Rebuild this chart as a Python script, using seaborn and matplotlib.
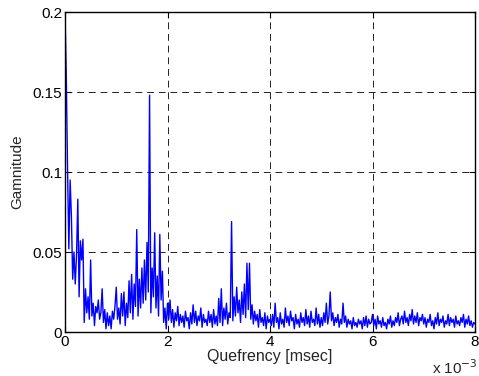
import numpy as np
import pandas as pd
import matplotlib
matplotlib.use("Agg")
import matplotlib.pyplot as plt
import seaborn as sns

# Quefrency step 0.025 ms
step_ms = 0.025
gamnitude = [
    # 0 - 1 ms
    0.200, 0.160, 0.101, 0.052, 0.095, 0.072, 0.033, 0.050, 0.030, 0.048,
    0.083, 0.022, 0.057, 0.045, 0.058, 0.006, 0.027, 0.012, 0.022, 0.008,
    0.045, 0.010, 0.018, 0.004, 0.016, 0.012, 0.020, 0.008, 0.012, 0.027,
    0.006, 0.014, 0.002, 0.012, 0.004, 0.010, 0.002, 0.013, 0.008, 0.016,
    # 1 - 2 ms
    0.028, 0.008, 0.015, 0.005, 0.024, 0.010, 0.025, 0.004, 0.018, 0.009,
    0.032, 0.012, 0.036, 0.008, 0.030, 0.016, 0.064, 0.010, 0.033, 0.015,
    0.040, 0.018, 0.045, 0.020, 0.056, 0.025, 0.148, 0.012, 0.040, 0.022,
    0.062, 0.015, 0.035, 0.010, 0.061, 0.020, 0.038, 0.006, 0.015, 0.002,
    # 2 - 3 ms
    0.018, 0.008, 0.020, 0.006, 0.014, 0.003, 0.012, 0.007, 0.016, 0.004,
    0.011, 0.006, 0.010, 0.003, 0.013, 0.007, 0.009, 0.002, 0.012, 0.005,
    0.017, 0.006, 0.013, 0.004, 0.010, 0.007, 0.015, 0.003, 0.011, 0.006,
    0.008, 0.004, 0.013, 0.006, 0.011, 0.003, 0.014, 0.005, 0.010, 0.004,
    # 3 - 4 ms
    0.021, 0.006, 0.027, 0.004, 0.015, 0.008, 0.018, 0.005, 0.012, 0.009,
    0.069, 0.007, 0.022, 0.010, 0.028, 0.012, 0.020, 0.006, 0.025, 0.011,
    0.030, 0.009, 0.043, 0.014, 0.043, 0.008, 0.017, 0.005, 0.013, 0.007,
    0.011, 0.003, 0.014, 0.006, 0.009, 0.004, 0.012, 0.002, 0.010, 0.006,
    # 4 - 5 ms
    0.008, 0.004, 0.011, 0.003, 0.018, 0.006, 0.009, 0.002, 0.012, 0.005,
    0.008, 0.003, 0.015, 0.006, 0.010, 0.004, 0.013, 0.007, 0.009, 0.002,
    0.011, 0.005, 0.008, 0.003, 0.012, 0.006, 0.009, 0.004, 0.014, 0.005,
    0.010, 0.003, 0.013, 0.006, 0.008, 0.004, 0.015, 0.005, 0.011, 0.003,
    # 5 - 6 ms
    0.009, 0.004, 0.012, 0.006, 0.018, 0.005, 0.010, 0.025, 0.007, 0.012,
    0.004, 0.009, 0.006, 0.011, 0.003, 0.008, 0.005, 0.018, 0.006, 0.010,
    0.003, 0.008, 0.005, 0.007, 0.002, 0.009, 0.004, 0.006, 0.003, 0.008,
    0.005, 0.007, 0.002, 0.009, 0.004, 0.010, 0.003, 0.008, 0.005, 0.006,
    # 6 - 7 ms
    0.011, 0.004, 0.008, 0.002, 0.010, 0.005, 0.007, 0.003, 0.009, 0.004,
    0.006, 0.002, 0.008, 0.005, 0.010, 0.003, 0.007, 0.004, 0.009, 0.006,
    0.012, 0.004, 0.008, 0.010, 0.005, 0.013, 0.006, 0.009, 0.004, 0.011,
    0.007, 0.014, 0.005, 0.010, 0.006, 0.012, 0.004, 0.009, 0.007, 0.011,
    # 7 - 8 ms
    0.005, 0.009, 0.003, 0.008, 0.006, 0.011, 0.004, 0.007, 0.002, 0.009,
    0.005, 0.012, 0.004, 0.008, 0.006, 0.010, 0.003, 0.007, 0.005, 0.011,
    0.004, 0.009, 0.006, 0.008, 0.003, 0.010, 0.005, 0.007, 0.004, 0.009,
    0.006, 0.011, 0.003, 0.008, 0.005, 0.010, 0.004, 0.007, 0.003, 0.006,
    0.005,
]
quefrency = [i * step_ms * 1e-3 for i in range(len(gamnitude))]

x_ticks = [0, 0.002, 0.004, 0.006, 0.008]
x_tick_labels = ["0", "2", "4", "6", "8"]
y_ticks = [0, 0.05, 0.1, 0.15, 0.2]
y_tick_labels = ["0", "0.05", "0.1", "0.15", "0.2"]

df = pd.DataFrame({"q": quefrency, "g": gamnitude})

sns.set_style("white")
plt.rcParams["font.family"] = ["Liberation Sans", "DejaVu Sans"]

fs = 11
fig = plt.figure(figsize=(4.79, 3.76), dpi=100)
ax = fig.add_axes([65 / 479, 1 - 332 / 376, 410 / 479, 320 / 376])

sns.lineplot(data=df, x="q", y="g", ax=ax, color="#0000ff", linewidth=1.0)

ax.set_xlim(0, 0.008)
ax.set_ylim(0, 0.2)
ax.set_xticks(x_ticks)
ax.set_xticklabels(x_tick_labels, fontsize=fs)
ax.set_yticks(y_ticks)
ax.set_yticklabels(y_tick_labels, fontsize=fs)
ax.tick_params(direction="in", length=4, width=0.8, colors="black", pad=2,
               top=True, right=True, bottom=True, left=True)
ax.grid(True, color="#222222", linestyle=(0, (7, 5)), linewidth=0.7)
for s in ax.spines.values():
    s.set_visible(True)
    s.set_color("black")
    s.set_linewidth(1.0)

ax.set_xlabel("Quefrency [msec]", fontsize=fs + 0.5, labelpad=0)
ax.set_ylabel("Gamnitude", fontsize=fs, labelpad=6)
fig.text(478 / 479, 1 - 374 / 376, r"x 10$^{-3}$", ha="right", va="baseline", fontsize=fs)

fig.savefig("out.png", dpi=100, facecolor="white")
